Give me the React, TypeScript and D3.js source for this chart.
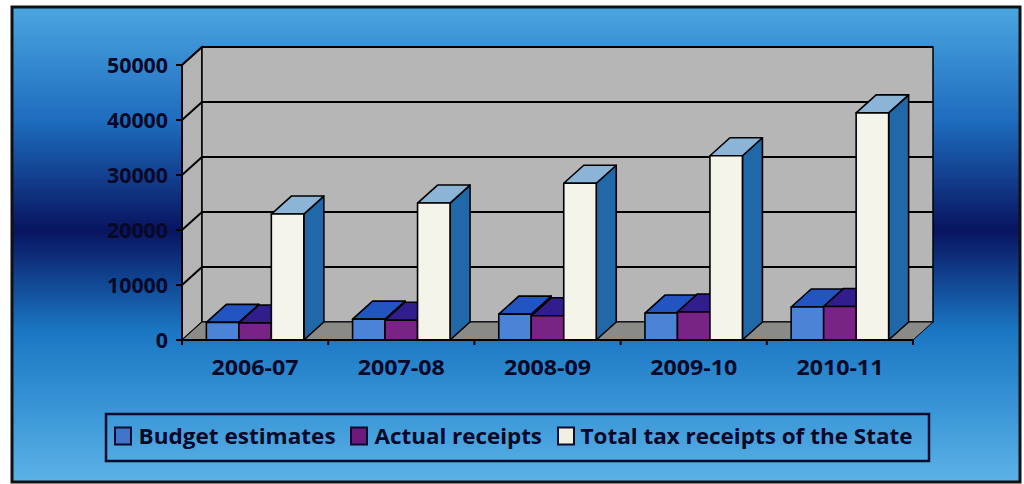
import React from "react";
import * as d3 from "d3";

const categories = ["2006-07", "2007-08", "2008-09", "2009-10", "2010-11"];
const seriesNames = ["Budget estimates", "Actual receipts", "Total tax receipts of the State"];
const budgetEstimates = [3200, 3800, 4700, 4900, 6000];
const actualReceipts = [3100, 3600, 4400, 5100, 6100];
const totalTaxReceipts = [22900, 24900, 28500, 33500, 41300];
const yTicks = [0, 10000, 20000, 30000, 40000, 50000];

const seriesValues = [budgetEstimates, actualReceipts, totalTaxReceipts];
const seriesColors = [
  { front: "#4b84d6", top: "#2255c2", side: "#234c9e", legend: "#3f74c8" },
  { front: "#7a2386", top: "#311d8c", side: "#3a1570", legend: "#6c1a7c" },
  { front: "#f4f4ea", top: "#8cb4d6", side: "#2068a8", legend: "#f0f0e2" },
];

const W = 1024;
const H = 484;
const FONT = "'Open Sans', Lato, sans-serif";
const TXT = "#080828";

export default function App() {
  const x0 = 182, x1 = 913;
  const dx = 20, dy = -18;
  const x = d3.scaleBand<string>().domain(categories).range([x0, x1]).paddingInner(0).paddingOuter(0);
  const xs = d3.scaleBand<string>().domain(seriesNames).range([0, x.bandwidth()]).paddingInner(0).paddingOuter(0.75);
  const y = d3.scaleLinear().domain([0, 50000]).range([340, 65]);
  const yb = y(0);
  const ytop = y(50000);

  const bars: React.ReactNode[] = [];
  categories.forEach((c, ci) => {
    seriesNames.forEach((s, si) => {
      const v = seriesValues[si][ci];
      const bx0 = (x(c) as number) + (xs(s) as number);
      const bx1 = bx0 + xs.bandwidth();
      const yt = y(v);
      const col = seriesColors[si];
      bars.push(
        <g key={`${c}-${s}`} stroke="#000" strokeWidth={1.6} strokeLinejoin="round">
          <polygon fill={col.side} points={`${bx1},${yt} ${bx1 + dx},${yt + dy} ${bx1 + dx},${yb + dy} ${bx1},${yb}`} />
          <polygon fill={col.top} points={`${bx0},${yt} ${bx1},${yt} ${bx1 + dx},${yt + dy} ${bx0 + dx},${yt + dy}`} />
          <rect x={bx0} y={yt} width={bx1 - bx0} height={yb - yt} fill={col.front} />
        </g>
      );
    });
  });

  const legendItems = [
    { mx: 115, tx: 138.6, tw: 197 },
    { mx: 351, tx: 374.5, tw: 167.5 },
    { mx: 558, tx: 580.5, tw: 332 },
  ];

  return (
    <svg width={W} height={H} style={{ position: "absolute", left: 0, top: 0 }} xmlns="http://www.w3.org/2000/svg">
      <defs>
        <linearGradient id="bg" x1="0" y1="0" x2="0" y2="1">
          <stop offset="0" stopColor="#4aa6e0" />
          <stop offset="0.24" stopColor="#1e6cbe" />
          <stop offset="0.47" stopColor="#081460" />
          <stop offset="0.68" stopColor="#1a76c2" />
          <stop offset="0.86" stopColor="#3c98d8" />
          <stop offset="1" stopColor="#5cb2e6" />
        </linearGradient>
      </defs>
      <rect x={0} y={0} width={W} height={H} fill="#ffffff" />
      <rect x={12} y={7} width={1008} height={475} fill="url(#bg)" stroke="#111" strokeWidth={3} />

      <polygon fill="#b4b4b4" stroke="#000" strokeWidth={1.5}
        points={`${x0},${ytop} ${x0 + dx},${ytop + dy} ${x0 + dx},${yb + dy} ${x0},${yb}`} />
      <rect x={x0 + dx} y={ytop + dy} width={x1 - x0} height={yb - ytop} fill="#b6b6b6" stroke="#000" strokeWidth={1.5} />
      <polygon fill="#8a8a86" stroke="#000" strokeWidth={1}
        points={`${x0},${yb} ${x1},${yb} ${x1 + dx},${yb + dy} ${x0 + dx},${yb + dy}`} />
      {yTicks.filter((t) => t > 0).map((t) => (
        <g key={t} stroke="#000" strokeWidth={2}>
          <line x1={x0} y1={y(t)} x2={x0 + dx} y2={y(t) + dy} />
          <line x1={x0 + dx} y1={y(t) + dy} x2={x1 + dx} y2={y(t) + dy} />
        </g>
      ))}

      {bars}

      <line x1={x0} y1={ytop} x2={x0} y2={yb} stroke="#000" strokeWidth={2} />
      <line x1={x0} y1={yb} x2={x1} y2={yb} stroke="#000" strokeWidth={2} />
      {yTicks.map((t) => (
        <g key={`yt${t}`}>
          <line x1={x0 - 6} y1={y(t)} x2={x0} y2={y(t)} stroke="#000" strokeWidth={2} />
          <text x={168} y={y(t) + 8} textAnchor="end" fontFamily={FONT} fontWeight={700} fontSize={22}
            fill={TXT} textLength={String(t).length * 12.2} lengthAdjust="spacingAndGlyphs">{t}</text>
        </g>
      ))}
      {[...categories.map((c) => x(c) as number), x1].map((tx, i) => (
        <line key={`xt${i}`} x1={tx} y1={yb} x2={tx} y2={yb + 5} stroke="#000" strokeWidth={2} />
      ))}
      {categories.map((c) => (
        <text key={`xl${c}`} x={(x(c) as number) + x.bandwidth() / 2} y={375} textAnchor="middle"
          fontFamily={FONT} fontWeight={700} fontSize={22} fill={TXT} textLength={87} lengthAdjust="spacingAndGlyphs">{c}</text>
      ))}

      <rect x={106} y={414} width={823} height={47} fill="none" stroke="#0b0b2e" strokeWidth={2.5} />
      {seriesNames.map((s, i) => (
        <g key={`lg${s}`}>
          <rect x={legendItems[i].mx} y={427.5} width={16} height={17} fill={seriesColors[i].legend} stroke="#0b0b2e" strokeWidth={2} />
          <text x={legendItems[i].tx} y={443.5} fontFamily={FONT} fontWeight={700} fontSize={22} fill={TXT}
            textLength={legendItems[i].tw} lengthAdjust="spacingAndGlyphs">{s}</text>
        </g>
      ))}
    </svg>
  );
}
